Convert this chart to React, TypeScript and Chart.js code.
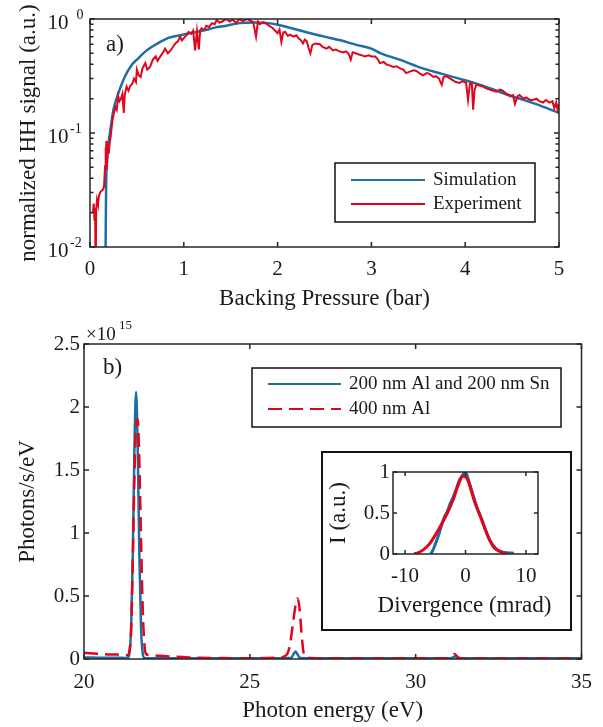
import React, { useEffect, useRef } from 'react';
import { Chart, registerables } from 'chart.js';

Chart.register(...registerables);

const FONT = '"Liberation Serif", "Times New Roman", serif';
const TEXT = '#1a1a1a';
const FRAME = '#262626';
const BLUE = '#1c6ea4';
const RED = '#e0061c';

// ---------- Panel a: HH signal vs backing pressure ----------
const pressureTicks = [0, 1, 2, 3, 4, 5];
const signalTicks = [0.01, 0.1, 1];

const simPressure = [0.160, 0.163, 0.168, 0.172, 0.180, 0.195, 0.213, 0.25, 0.30, 0.37, 0.45, 0.50, 0.58, 0.66, 0.75, 0.83, 0.92, 1.00, 1.10, 1.23, 1.33, 1.44, 1.60, 1.75, 1.90, 2.00, 2.15, 2.30, 2.50, 2.67, 2.85, 3.00, 3.10, 3.30, 3.50, 3.75, 4.00, 4.16, 4.50, 4.75, 5.00];
const simSignal = [0.003, 0.005, 0.015, 0.035, 0.055, 0.078, 0.10, 0.16, 0.22, 0.31, 0.40, 0.44, 0.51, 0.57, 0.63, 0.68, 0.71, 0.73, 0.76, 0.80, 0.84, 0.87, 0.92, 0.93, 0.92, 0.89, 0.83, 0.77, 0.70, 0.65, 0.59, 0.55, 0.50, 0.44, 0.38, 0.33, 0.29, 0.264, 0.21, 0.18, 0.15];

const expPressure = [0.030, 0.040, 0.048, 0.055, 0.060, 0.066, 0.075, 0.085, 0.095, 0.107, 0.120, 0.140, 0.150, 0.160, 0.165, 0.170, 0.175, 0.180, 0.190, 0.200, 0.210, 0.220, 0.230, 0.240, 0.255, 0.270, 0.285, 0.300, 0.315, 0.330, 0.345, 0.360, 0.370, 0.390, 0.410, 0.430, 0.450, 0.470, 0.490, 0.500, 0.520, 0.540, 0.560, 0.590, 0.610, 0.640, 0.670, 0.700, 0.720, 0.750, 0.780, 0.800, 0.830, 0.860, 0.890, 0.910, 0.940, 0.960, 0.980, 1.000, 1.030, 1.050, 1.080, 1.100, 1.120, 1.140, 1.160, 1.175, 1.190, 1.220, 1.240, 1.270, 1.300, 1.330, 1.350, 1.380, 1.420, 1.450, 1.490, 1.520, 1.560, 1.590, 1.630, 1.670, 1.710, 1.740, 1.770, 1.790, 1.810, 1.850, 1.880, 1.920, 1.950, 1.980, 2.000, 2.020, 2.040, 2.060, 2.080, 2.110, 2.130, 2.170, 2.200, 2.220, 2.250, 2.270, 2.290, 2.310, 2.330, 2.350, 2.370, 2.400, 2.450, 2.480, 2.520, 2.550, 2.590, 2.620, 2.660, 2.700, 2.730, 2.760, 2.780, 2.800, 2.830, 2.860, 2.900, 2.930, 2.970, 3.000, 3.040, 3.070, 3.090, 3.130, 3.160, 3.200, 3.230, 3.270, 3.300, 3.340, 3.370, 3.410, 3.450, 3.480, 3.510, 3.550, 3.590, 3.620, 3.660, 3.690, 3.720, 3.750, 3.770, 3.800, 3.840, 3.870, 3.900, 3.940, 3.970, 4.010, 4.030, 4.050, 4.070, 4.085, 4.100, 4.120, 4.160, 4.190, 4.230, 4.260, 4.300, 4.330, 4.370, 4.400, 4.440, 4.480, 4.510, 4.530, 4.560, 4.580, 4.620, 4.650, 4.690, 4.720, 4.760, 4.790, 4.830, 4.860, 4.900, 4.930, 4.950, 4.970, 4.985, 5.000];
const expSignal = [0.020, 0.024, 0.017, 0.022, 0.004, 0.021, 0.026, 0.024, 0.028, 0.030, 0.031, 0.032, 0.034, 0.051, 0.075, 0.060, 0.085, 0.048, 0.080, 0.066, 0.082, 0.093, 0.110, 0.130, 0.150, 0.170, 0.160, 0.210, 0.190, 0.200, 0.220, 0.150, 0.215, 0.255, 0.235, 0.260, 0.270, 0.300, 0.280, 0.360, 0.320, 0.310, 0.370, 0.410, 0.360, 0.380, 0.440, 0.470, 0.430, 0.470, 0.510, 0.550, 0.500, 0.530, 0.580, 0.610, 0.640, 0.700, 0.650, 0.680, 0.720, 0.770, 0.740, 0.790, 0.530, 0.780, 0.540, 0.800, 0.830, 0.800, 0.870, 0.850, 0.920, 0.900, 0.980, 0.930, 0.960, 1.000, 0.950, 0.990, 0.920, 1.000, 0.960, 1.000, 0.970, 0.940, 0.700, 0.950, 0.900, 0.940, 0.910, 0.860, 0.830, 0.780, 0.750, 0.810, 0.630, 0.760, 0.770, 0.710, 0.730, 0.700, 0.720, 0.680, 0.650, 0.610, 0.660, 0.640, 0.560, 0.500, 0.590, 0.610, 0.600, 0.570, 0.550, 0.570, 0.530, 0.540, 0.520, 0.510, 0.520, 0.490, 0.440, 0.510, 0.500, 0.490, 0.480, 0.470, 0.480, 0.470, 0.470, 0.440, 0.410, 0.420, 0.400, 0.390, 0.380, 0.385, 0.370, 0.360, 0.335, 0.345, 0.355, 0.350, 0.335, 0.320, 0.335, 0.330, 0.310, 0.315, 0.300, 0.264, 0.310, 0.315, 0.300, 0.290, 0.280, 0.275, 0.285, 0.275, 0.195, 0.270, 0.275, 0.160, 0.240, 0.265, 0.260, 0.255, 0.245, 0.240, 0.235, 0.230, 0.240, 0.235, 0.220, 0.210, 0.215, 0.180, 0.210, 0.215, 0.200, 0.205, 0.195, 0.195, 0.200, 0.190, 0.185, 0.195, 0.185, 0.190, 0.165, 0.185, 0.160, 0.180];

// ---------- Panel b: spectrum (units of 1e15 photons/s/eV) ----------
const energyTicks = [20, 25, 30, 35];
const photonTicks = [0, 0.5, 1, 1.5, 2, 2.5];

const energyBlue = [20, 20.5, 21.0, 21.25, 21.32, 21.37, 21.42, 21.47, 21.52, 21.57, 21.62, 21.67, 21.72, 21.77, 21.82, 22.0, 23.0, 24.0, 25.0, 26.0, 26.25, 26.32, 26.38, 26.44, 26.52, 27.0, 28.0, 29.0, 30.0, 31.0, 31.1, 31.17, 31.25, 32.0, 33.0, 34.0, 35.0];
const photonsBlue = [0.012, 0.010, 0.010, 0.008, 0.010, 0.045, 0.24, 0.81, 1.67, 2.12, 1.67, 0.81, 0.24, 0.045, 0.008, 0.006, 0.005, 0.005, 0.005, 0.006, 0.010, 0.040, 0.060, 0.035, 0.008, 0.006, 0.005, 0.005, 0.005, 0.005, 0.010, 0.020, 0.008, 0.005, 0.005, 0.005, 0.005];

const energyRed = [20.0, 20.2, 20.5, 20.8, 21.0, 21.2, 21.3, 21.38, 21.43, 21.48, 21.53, 21.58, 21.62, 21.67, 21.72, 21.77, 21.82, 21.87, 22.0, 22.3, 22.6, 23.0, 23.5, 24.0, 24.5, 25.0, 25.5, 25.9, 26.1, 26.2, 26.3, 26.38, 26.44, 26.5, 26.56, 26.62, 26.7, 27.0, 28.0, 29.0, 30.0, 31.0, 31.1, 31.17, 31.25, 31.35, 32.0, 33.0, 34.0, 35.0];
const photonsRed = [0.050, 0.045, 0.040, 0.035, 0.035, 0.030, 0.030, 0.08, 0.30, 0.90, 1.55, 1.88, 1.90, 1.55, 0.95, 0.40, 0.12, 0.040, 0.030, 0.025, 0.020, 0.015, 0.010, 0.008, 0.006, 0.006, 0.008, 0.012, 0.030, 0.10, 0.28, 0.43, 0.48, 0.40, 0.20, 0.05, 0.012, 0.006, 0.005, 0.005, 0.005, 0.006, 0.020, 0.040, 0.020, 0.006, 0.004, 0.004, 0.004, 0.004];

// ---------- Inset: divergence profile ----------
const divTicks = [-10, 0, 10];
const intTicks = [0, 0.5, 1];

const divBlue = [-5.8, -5.5, -5, -4.5, -4, -3.5, -3, -2.5, -2, -1.5, -1, -0.5, -0.2, 0.2, 0.5, 1, 1.5, 2, 2.5, 3, 3.5, 4, 4.5, 5, 5.5, 6, 7, 8];
const intBlue = [0.0, 0.03, 0.12, 0.22, 0.34, 0.45, 0.52, 0.62, 0.70, 0.80, 0.90, 0.96, 0.99, 0.97, 0.90, 0.78, 0.66, 0.55, 0.46, 0.36, 0.26, 0.17, 0.10, 0.06, 0.04, 0.025, 0.015, 0.01];

const divRed = [-8.5, -8, -7, -6, -5, -4, -3, -2, -1.5, -1, -0.5, 0, 0.5, 1, 1.5, 2, 2.5, 3, 3.5, 4, 5, 6, 7];
const intRed = [0.003, 0.01, 0.05, 0.12, 0.23, 0.36, 0.50, 0.67, 0.78, 0.88, 0.95, 0.94, 0.88, 0.76, 0.64, 0.54, 0.45, 0.35, 0.255, 0.17, 0.065, 0.02, 0.003];

// ---------- helpers ----------
const pts = (xs: number[], ys: number[]) => xs.map((x, i) => ({ x, y: ys[i] }));

function xAxis(min: number, max: number, ticks: number[], height: number, title: string, titlePad: number, tickPad: number) {
  return {
    type: 'linear',
    position: 'bottom',
    min,
    max,
    afterBuildTicks: (s: any) => { s.ticks = ticks.map((v) => ({ value: v })); },
    afterFit: (s: any) => { s.height = height; },
    grid: { display: false, drawTicks: false },
    border: { display: false },
    ticks: { font: { family: FONT, size: 21 }, color: TEXT, padding: tickPad, maxRotation: 0, autoSkip: false, callback: (v: any) => String(v) },
    title: { display: title !== '', text: title, font: { family: FONT, size: 23 }, color: TEXT, padding: { top: 0, bottom: titlePad } },
  };
}

function yAxis(type: string, min: number, max: number, ticks: number[], width: number, title: string, titlePad: number, tickPad: number, showLabels: boolean) {
  return {
    type,
    position: 'left',
    min,
    max,
    afterBuildTicks: (s: any) => { s.ticks = ticks.map((v) => ({ value: v })); },
    afterFit: (s: any) => { s.width = width; },
    grid: { display: false, drawTicks: false },
    border: { display: false },
    ticks: { display: showLabels, font: { family: FONT, size: 21 }, color: TEXT, padding: tickPad, autoSkip: false, callback: (v: any) => String(v) },
    title: { display: true, text: title, font: { family: FONT, size: 23 }, color: TEXT, padding: { top: titlePad, bottom: 0 } },
  };
}

function framePlugin(tickLen: number, minorY: number[] = []) {
  return {
    id: 'frame',
    afterDatasetsDraw(chart: any) {
      const { ctx, chartArea: a, scales } = chart;
      ctx.save();
      ctx.strokeStyle = FRAME;
      ctx.lineWidth = 1.5;
      ctx.beginPath();
      for (const t of scales.x.ticks) {
        const px = scales.x.getPixelForValue(t.value);
        ctx.moveTo(px, a.bottom); ctx.lineTo(px, a.bottom - tickLen);
        ctx.moveTo(px, a.top); ctx.lineTo(px, a.top + tickLen);
      }
      for (const t of scales.y.ticks) {
        const py = scales.y.getPixelForValue(t.value);
        ctx.moveTo(a.left, py); ctx.lineTo(a.left + tickLen, py);
        ctx.moveTo(a.right, py); ctx.lineTo(a.right - tickLen, py);
      }
      for (const v of minorY) {
        const py = scales.y.getPixelForValue(v);
        ctx.moveTo(a.left, py); ctx.lineTo(a.left + tickLen * 0.7, py);
        ctx.moveTo(a.right, py); ctx.lineTo(a.right - tickLen * 0.7, py);
      }
      ctx.stroke();
      ctx.strokeRect(a.left, a.top, a.right - a.left, a.bottom - a.top);
      ctx.restore();
    },
  };
}

function legendBox(ctx: CanvasRenderingContext2D, x: number, y: number, w: number, h: number) {
  ctx.fillStyle = '#fff';
  ctx.fillRect(x, y, w, h);
  ctx.strokeStyle = '#111';
  ctx.lineWidth = 1.5;
  ctx.strokeRect(x, y, w, h);
}

function legendEntry(ctx: CanvasRenderingContext2D, x1: number, x2: number, y: number, color: string, dash: number[], label: string, tx: number) {
  ctx.save();
  ctx.strokeStyle = color;
  ctx.lineWidth = 2.2;
  ctx.setLineDash(dash);
  ctx.beginPath();
  ctx.moveTo(x1, y); ctx.lineTo(x2, y);
  ctx.stroke();
  ctx.restore();
  ctx.fillStyle = TEXT;
  ctx.font = `19px ${FONT}`;
  ctx.textAlign = 'left';
  ctx.textBaseline = 'middle';
  ctx.fillText(label, tx, y);
}

const baseOptions = (padding: any) => ({
  responsive: false,
  animation: false,
  devicePixelRatio: 1,
  events: [],
  layout: { padding },
  plugins: { legend: { display: false }, tooltip: { enabled: false } },
});

function makeA(canvas: HTMLCanvasElement) {
  const minor: number[] = [];
  for (const d of [0.01, 0.1]) for (let m = 2; m <= 9; m++) minor.push(d * m);
  const extras = {
    id: 'extrasA',
    afterDraw(chart: any) {
      const { ctx, scales } = chart;
      ctx.save();
      for (const v of signalTicks) {
        const y = scales.y.getPixelForValue(v);
        const p = Math.round(Math.log10(v));
        ctx.fillStyle = TEXT;
        ctx.textBaseline = 'alphabetic';
        ctx.textAlign = 'right';
        ctx.font = `21px ${FONT}`;
        ctx.fillText('10', 68.5, y + 9.5);
        ctx.textAlign = 'left';
        ctx.font = `14px ${FONT}`;
        ctx.fillText(p === 0 ? '0' : '-' + String(-p), p === 0 ? 76.5 : 70, y - 0.5);
      }
      ctx.font = `23px ${FONT}`;
      ctx.textAlign = 'left';
      ctx.textBaseline = 'middle';
      ctx.fillText('a)', 106, 45);
      legendBox(ctx, 335, 163, 200, 59);
      legendEntry(ctx, 351, 425, 180, BLUE, [], 'Simulation', 433);
      legendEntry(ctx, 351, 425, 204, RED, [], 'Experiment', 433);
      ctx.restore();
    },
  };
  return new Chart(canvas, {
    type: 'line',
    data: {
      datasets: [
        { data: pts(expPressure, expSignal), borderColor: RED, borderWidth: 2, pointRadius: 0, tension: 0 },
        { data: pts(simPressure, simSignal), borderColor: BLUE, borderWidth: 2.5, pointRadius: 0, cubicInterpolationMode: 'monotone' },
      ],
    },
    options: {
      ...baseOptions({ left: 0, top: 19, right: 44, bottom: 0 }),
      scales: {
        x: xAxis(0, 5, pressureTicks, 71, 'Backing Pressure (bar)', 5, 10),
        y: yAxis('logarithmic', 0.01, 1, signalTicks, 90, 'normalized HH signal (a.u.)', 15, 4, false),
      },
    } as any,
    plugins: [framePlugin(5, minor), extras],
  });
}

function makeB(canvas: HTMLCanvasElement) {
  const extras = {
    id: 'extrasB',
    afterDraw(chart: any) {
      const { ctx } = chart;
      ctx.save();
      ctx.fillStyle = TEXT;
      ctx.textAlign = 'left';
      ctx.textBaseline = 'alphabetic';
      ctx.font = `19px ${FONT}`;
      ctx.fillText('\u00d710', 86, 22);
      ctx.font = `13px ${FONT}`;
      ctx.fillText('15', 119, 11);
      ctx.font = `23px ${FONT}`;
      ctx.textBaseline = 'middle';
      ctx.fillText('b)', 103, 50);
      legendBox(ctx, 252, 50, 309, 59);
      legendEntry(ctx, 268, 341, 66, BLUE, [], '200 nm Al and 200 nm Sn', 349);
      legendEntry(ctx, 268, 341, 91, RED, [14, 7], '400 nm Al', 349);
      ctx.restore();
    },
  };
  return new Chart(canvas, {
    type: 'line',
    data: {
      datasets: [
        { data: pts(energyRed, photonsRed), borderColor: RED, borderWidth: 2.5, borderDash: [14, 7], pointRadius: 0, cubicInterpolationMode: 'monotone' },
        { data: pts(energyBlue, photonsBlue), borderColor: BLUE, borderWidth: 2.5, pointRadius: 0, cubicInterpolationMode: 'monotone' },
      ],
    },
    options: {
      ...baseOptions({ left: 0, top: 26, right: 18, bottom: 0 }),
      scales: {
        x: xAxis(20, 35, energyTicks, 68, 'Photon energy (eV)', 2, 11),
        y: yAxis('linear', 0, 2.5, photonTicks, 84, 'Photons/s/eV', 14, 4, true),
      },
    } as any,
    plugins: [framePlugin(5), extras],
  });
}

function makeInset(canvas: HTMLCanvasElement) {
  const extras = {
    id: 'extrasInset',
    afterDraw(chart: any) {
      const { ctx, chartArea: a } = chart;
      ctx.save();
      ctx.fillStyle = TEXT;
      ctx.font = `23px ${FONT}`;
      ctx.textAlign = 'center';
      ctx.textBaseline = 'middle';
      ctx.fillText('Divergence (mrad)', (a.left + a.right) / 2 - 1, 153);
      ctx.restore();
    },
  };
  return new Chart(canvas, {
    type: 'line',
    data: {
      datasets: [
        { data: pts(divRed, intRed), borderColor: RED, borderWidth: 3, pointRadius: 0, cubicInterpolationMode: 'monotone' },
        { data: pts(divBlue, intBlue), borderColor: BLUE, borderWidth: 3, pointRadius: 0, cubicInterpolationMode: 'monotone' },
      ],
    },
    options: {
      ...baseOptions({ left: 0, top: 19, right: 32, bottom: 0 }),
      scales: {
        x: xAxis(-12, 12, divTicks, 75, '', 9, 10),
        y: yAxis('linear', 0, 1, intTicks, 70, 'I (a.u.)', 2, 3, true),
      },
    } as any,
    plugins: [framePlugin(4), extras],
  });
}

export default function App() {
  const aRef = useRef<HTMLCanvasElement>(null);
  const bRef = useRef<HTMLCanvasElement>(null);
  const cRef = useRef<HTMLCanvasElement>(null);

  useEffect(() => {
    document.body.style.margin = '0';
    const charts = [makeA(aRef.current!), makeB(bRef.current!), makeInset(cRef.current!)];
    return () => charts.forEach((c) => c.destroy());
  }, []);

  return (
    <div style={{ position: 'relative', width: 603, height: 727, background: '#fff', overflow: 'hidden' }}>
      <canvas ref={aRef} width={603} height={318} style={{ position: 'absolute', left: 0, top: 0, width: 603, height: 318 }} />
      <canvas ref={bRef} width={603} height={409} style={{ position: 'absolute', left: 0, top: 318, width: 603, height: 409 }} />
      <div style={{ position: 'absolute', left: 321, top: 451, width: 251, height: 180, boxSizing: 'border-box', border: '2px solid #111', background: '#fff' }}>
        <canvas ref={cRef} width={247} height={176} style={{ display: 'block', width: 247, height: 176 }} />
      </div>
    </div>
  );
}
